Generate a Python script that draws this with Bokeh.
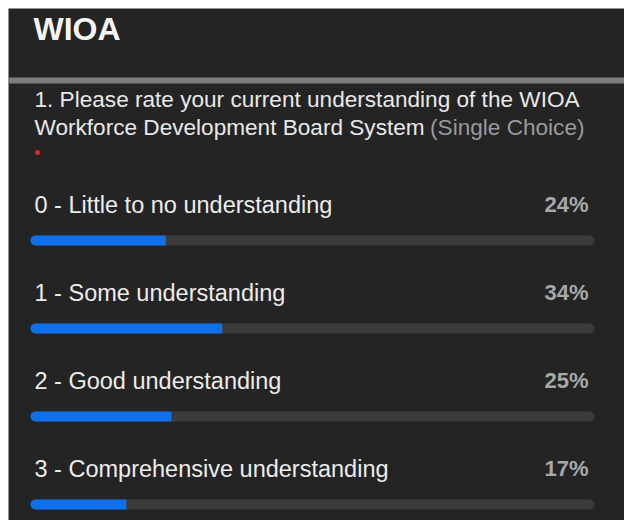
from bokeh.plotting import figure
from bokeh.models import Range1d, BoxAnnotation
from bokeh.core.properties import value
from bokeh.embed import file_html
from bokeh.resources import INLINE

# ---- data ----
title = "WIOA"
question_line1 = "1. Please rate your current understanding of the WIOA"
question_line2 = "Workforce Development Board System"
question_type = "(Single Choice)"
options = [
    "0 - Little to no understanding",
    "1 - Some understanding",
    "2 - Good understanding",
    "3 - Comprehensive understanding",
]
percents = [24, 34, 25, 17]

# ---- layout (pixels) ----
W, H = 616, 512
PX_PER_UNIT = 5.64          # 100% == 564 px of track
X0_PX = 22                  # where 0% sits on canvas
FONT = "Liberation Sans"
BG = "#242424"

def xd(px):
    """canvas pixel -> data x"""
    return (px - X0_PX) / PX_PER_UNIT

p = figure(width=W, height=H, output_backend="svg", toolbar_location=None,
           x_range=Range1d(xd(0), xd(W)), y_range=Range1d(H, 0),
           min_border=0, outline_line_color=None,
           background_fill_color=BG, border_fill_color=BG)
p.margin = (8, 0, 0, 8)
p.axis.visible = False
p.grid.visible = False

# separator band under header
p.add_layout(BoxAnnotation(top=69, bottom=75, fill_color="#7c7c7c", fill_alpha=1,
                           line_color=None, level="underlay"))

# title
p.text(x=[xd(25)], y=[20], text=[title], text_font=value(FONT),
       text_font_size=value("32px"), text_font_style="bold",
       text_color="#f4f4f4", text_baseline="alphabetic")

# question
p.text(x=[xd(26)], y=[91], text=[question_line1], text_font=value(FONT),
       text_font_size=value("22.6px"), text_color="#e8e8e8", text_baseline="alphabetic")
p.text(x=[xd(26)], y=[119], text=[question_line2], text_font=value(FONT),
       text_font_size=value("22.6px"), text_color="#e8e8e8", text_baseline="alphabetic")
p.text(x=[xd(576)], y=[119], text=[question_type], text_font=value(FONT),
       text_font_size=value("22.6px"), text_color="#9a9a9a", text_baseline="alphabetic",
       text_align="right")
p.scatter(x=[xd(29)], y=[144], size=5, color="#e0282b", line_color=None)

# options
ROW0_LABEL = 196     # label text anchor (canvas)
ROW0_BAR = 232       # bar centre (canvas)
ROW_STEP = 88
n = len(options)
label_y = [ROW0_LABEL + i * ROW_STEP for i in range(n)]
bar_y = [ROW0_BAR + i * ROW_STEP for i in range(n)]

p.text(x=[xd(26)] * n, y=label_y, text=options, text_font=value(FONT),
       text_font_size=value("23.5px"), text_color="#ececec", text_baseline="alphabetic")
p.text(x=[xd(580)] * n, y=label_y, text=[f"{v}%" for v in percents],
       text_font=value(FONT), text_font_size=value("22px"), text_font_style="bold",
       text_color="#a8a8a8", text_baseline="alphabetic", text_align="right")

# tracks and bars
p.hbar(y=bar_y, left=0, right=100, height=10, fill_color="#3b3b3b",
       line_color=None, border_radius=5)
p.hbar(y=bar_y, left=0, right=percents, height=10, fill_color="#0e71eb",
       line_color=None, border_radius=(5, 0, 0, 5))

open("out.html", "w").write(file_html(p, INLINE))
